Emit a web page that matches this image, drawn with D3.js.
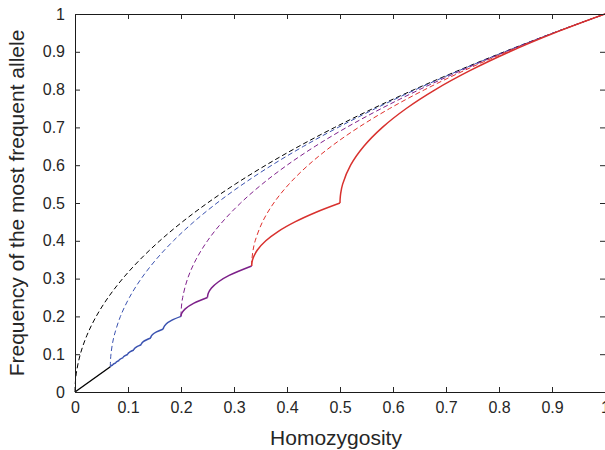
<!DOCTYPE html>
<html>
<head>
<meta charset="utf-8">
<script src="https://cdn.jsdelivr.net/npm/d3@7"></script>
<style>
  body { margin: 0; background: #fff; }
  svg { display: block; font-family: "Liberation Sans", Arial, Helvetica, sans-serif; }
</style>
</head>
<body>
<div id="chart"></div>
<script>
// tick labels
const tickVals = [0, 0.1, 0.2, 0.3, 0.4, 0.5, 0.6, 0.7, 0.8, 0.9, 1];

// upper bounds (dashed), one per number of alleles
const upperK = ["inf", 15, 5, 3];
const upperH = [
  [0, 0.0004, 0.0025, 0.01, 0.0225, 0.04, 0.0625, 0.09, 0.1225, 0.16, 0.2025, 0.25, 0.3025, 0.36, 0.4225, 0.49, 0.5625, 0.64, 0.7225, 0.81, 0.9025, 1],
  [0.0667, 0.06668, 0.06674, 0.06703, 0.06786, 0.07031, 0.07411, 0.08571, 0.10268, 0.125, 0.15268, 0.18571, 0.22411, 0.26786, 0.31696, 0.37143, 0.43125, 0.49643, 0.56696, 0.64286, 0.72411, 0.81071, 0.90268, 1],
  [0.2, 0.20013, 0.20078, 0.20313, 0.2125, 0.22813, 0.25, 0.27813, 0.3125, 0.35313, 0.4, 0.45313, 0.5125, 0.57813, 0.65, 0.72813, 0.8125, 0.90313, 1],
  [0.3333, 0.33375, 0.33594, 0.34, 0.35375, 0.375, 0.40375, 0.44, 0.48375, 0.535, 0.59375, 0.66, 0.73375, 0.815, 0.90375, 1]
];
const upperP = [
  [0, 0.02, 0.05, 0.1, 0.15, 0.2, 0.25, 0.3, 0.35, 0.4, 0.45, 0.5, 0.55, 0.6, 0.65, 0.7, 0.75, 0.8, 0.85, 0.9, 0.95, 1],
  [0.0667, 0.07, 0.075, 0.085, 0.1, 0.125, 0.15, 0.2, 0.25, 0.3, 0.35, 0.4, 0.45, 0.5, 0.55, 0.6, 0.65, 0.7, 0.75, 0.8, 0.85, 0.9, 0.95, 1],
  [0.2, 0.21, 0.225, 0.25, 0.3, 0.35, 0.4, 0.45, 0.5, 0.55, 0.6, 0.65, 0.7, 0.75, 0.8, 0.85, 0.9, 0.95, 1],
  [0.3333, 0.35, 0.375, 0.4, 0.45, 0.5, 0.55, 0.6, 0.65, 0.7, 0.75, 0.8, 0.85, 0.9, 0.95, 1]
];

// lower bound (solid), one scallop per k
const lowerK = [1, 2, 3, 4, 5, 6, 7, 8, 9, 10, 11, 12, 13, 14];
const lowerH = [
  [0.5, 0.5002, 0.50125, 0.505, 0.52, 0.545, 0.58, 0.625, 0.68, 0.745, 0.82, 0.905, 1],
  [0.3333, 0.3336, 0.335, 0.34375, 0.36, 0.38375, 0.415, 0.45375, 0.5],
  [0.25, 0.2503, 0.25188, 0.2575, 0.27083, 0.29083, 0.3333],
  [0.2, 0.20032, 0.202, 0.208, 0.2245, 0.25],
  [0.16667, 0.167, 0.172, 0.183, 0.2],
  [0.1429, 0.14327, 0.14637, 0.1538, 0.16667],
  [0.125, 0.1255, 0.12943, 0.1429],
  [0.1111, 0.11171, 0.11559, 0.125],
  [0.1, 0.10081, 0.10441, 0.1111],
  [0.0909, 0.09196, 0.1],
  [0.0833, 0.08427, 0.0909],
  [0.0769, 0.07796, 0.0833],
  [0.0714, 0.07237, 0.0769],
  [0.0667, 0.06762, 0.0714]
];
const lowerP = [
  [0.5, 0.51, 0.525, 0.55, 0.6, 0.65, 0.7, 0.75, 0.8, 0.85, 0.9, 0.95, 1],
  [0.3333, 0.34, 0.35, 0.375, 0.4, 0.425, 0.45, 0.475, 0.5],
  [0.25, 0.255, 0.2625, 0.275, 0.29167, 0.30833, 0.3333],
  [0.2, 0.204, 0.21, 0.22, 0.235, 0.25],
  [0.16667, 0.17, 0.18, 0.19, 0.2],
  [0.1429, 0.146, 0.152, 0.159, 0.16667],
  [0.125, 0.128, 0.1339, 0.1429],
  [0.1111, 0.114, 0.119, 0.125],
  [0.1, 0.103, 0.107, 0.1111],
  [0.0909, 0.094, 0.1],
  [0.0833, 0.086, 0.0909],
  [0.0769, 0.0795, 0.0833],
  [0.0714, 0.0737, 0.0769],
  [0.0667, 0.0688, 0.0714]
];
const tailH = [0, 0.0667];
const tailP = [0, 0.0667];

const margin = {top: 14, right: 0, bottom: 58, left: 75};
const width = 605 - margin.left - margin.right;
const height = 450 - margin.top - margin.bottom;

const svg = d3.select("#chart").append("svg")
    .attr("width", 605)
    .attr("height", 450);

const g = svg.append("g")
    .attr("transform", "translate(" + margin.left + "," + margin.top + ")");

const x = d3.scaleLinear().domain([0, 1]).range([0, width]);
const y = d3.scaleLinear().domain([0, 1]).range([height, 0]);

const upperColor = {"inf": "#000000", 15: "#3a52b0", 5: "#80208c", 3: "#e0302c"};
function lowerColor(k) {
  if (k <= 2) return "#d8312e";
  if (k <= 4) return "#7c2089";
  return "#3a52b0";
}

const line = d3.line()
    .x(d => x(d[0]))
    .y(d => y(d[1]))
    .curve(d3.curveCatmullRom.alpha(0.5));

// dashed upper bounds
upperK.forEach((k, i) => {
  const pts = upperH[i].map((h, j) => [h, upperP[i][j]]);
  g.append("path")
      .attr("d", line(pts))
      .attr("fill", "none")
      .attr("stroke", upperColor[k])
      .attr("stroke-width", 1)
      .attr("stroke-dasharray", "5,3");
});

// solid lower bound
g.append("path")
    .attr("d", line(tailH.map((h, j) => [h, tailP[j]])))
    .attr("fill", "none")
    .attr("stroke", "#000")
    .attr("stroke-width", 1.4);

lowerK.slice().reverse().forEach(k => {
  const i = lowerK.indexOf(k);
  const pts = lowerH[i].map((h, j) => [h, lowerP[i][j]]);
  g.append("path")
      .attr("d", line(pts))
      .attr("fill", "none")
      .attr("stroke", lowerColor(k))
      .attr("stroke-width", 1.5)
      .attr("stroke-linejoin", "round");
});

// axes, ticks pointing inward
const fmt = d => String(d);
function styleAxis(sel) {
  sel.attr("font-size", 16)
     .attr("font-family", "'Liberation Sans', Arial, Helvetica, sans-serif");
  sel.selectAll("text").attr("fill", "#262626");
  sel.selectAll("line").attr("stroke", "#262626");
  sel.select(".domain").attr("stroke", "#1a1a1a");
}

g.append("g")
    .attr("transform", "translate(0," + height + ")")
    .call(d3.axisBottom(x).tickValues(tickVals).tickSizeInner(-5).tickSizeOuter(0).tickPadding(10).tickFormat(fmt))
    .call(styleAxis);

g.append("g")
    .call(d3.axisTop(x).tickValues(tickVals).tickSizeInner(-5).tickSizeOuter(0).tickFormat(""))
    .call(styleAxis);

g.append("g")
    .call(d3.axisLeft(y).tickValues(tickVals).tickSizeInner(-5).tickSizeOuter(0).tickPadding(10).tickFormat(fmt))
    .call(styleAxis);

g.append("g")
    .attr("transform", "translate(" + width + ",0)")
    .call(d3.axisRight(y).tickValues(tickVals).tickSizeInner(-5).tickSizeOuter(0).tickFormat(""))
    .call(styleAxis);

// titles
svg.append("text")
    .attr("x", 336)
    .attr("y", 445)
    .attr("text-anchor", "middle")
    .attr("font-size", 21)
    .attr("fill", "#262626")
    .text("Homozygosity");

svg.append("text")
    .attr("transform", "translate(24," + (margin.top + height / 2) + ") rotate(-90)")
    .attr("text-anchor", "middle")
    .attr("font-size", 21)
    .attr("fill", "#262626")
    .text("Frequency of the most frequent allele");
</script>
</body>
</html>
